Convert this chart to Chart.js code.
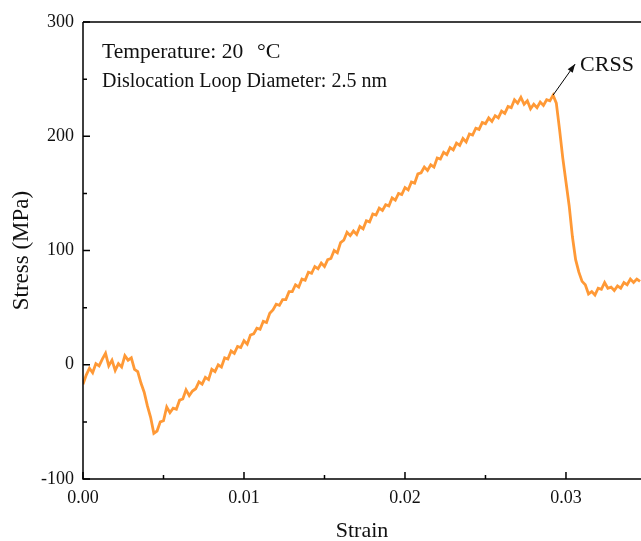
<!DOCTYPE html>
<html lang="en">
<head>
  <meta charset="UTF-8" />
  <title>Stress-Strain</title>
  <script src="https://cdn.jsdelivr.net/npm/chart.js@4.4.0"></script>
  <style>
    html, body { margin: 0; padding: 0; background: #fff; overflow: hidden; }
    #wrap { width: 641px; height: 541px; }
  </style>
</head>
<body>
  <div id="wrap"><canvas id="ssChart" width="641" height="541"></canvas></div>

  <script>
    // strain values
    const strain = [
      0.0000, 0.0002, 0.0004, 0.0006, 0.0008, 0.0010, 0.0012, 0.0014, 0.0016, 0.0018,
      0.0020, 0.0022, 0.0024, 0.0026, 0.0028, 0.0030, 0.0032, 0.0034, 0.0036, 0.0038,
      0.0040, 0.0042, 0.0044, 0.0046, 0.0048, 0.0050, 0.0052, 0.0054, 0.0056, 0.0058,
      0.0060, 0.0062, 0.0064, 0.0066, 0.0068, 0.0070, 0.0072, 0.0074, 0.0076, 0.0078,
      0.0080, 0.0082, 0.0084, 0.0086, 0.0088, 0.0090, 0.0092, 0.0094, 0.0096, 0.0098,
      0.0100, 0.0102, 0.0104, 0.0106, 0.0108, 0.0110, 0.0112, 0.0114, 0.0116, 0.0118,
      0.0120, 0.0122, 0.0124, 0.0126, 0.0128, 0.0130, 0.0132, 0.0134, 0.0136, 0.0138,
      0.0140, 0.0142, 0.0144, 0.0146, 0.0148, 0.0150, 0.0152, 0.0154, 0.0156, 0.0158,
      0.0160, 0.0162, 0.0164, 0.0166, 0.0168, 0.0170, 0.0172, 0.0174, 0.0176, 0.0178,
      0.0180, 0.0182, 0.0184, 0.0186, 0.0188, 0.0190, 0.0192, 0.0194, 0.0196, 0.0198,
      0.0200, 0.0202, 0.0204, 0.0206, 0.0208, 0.0210, 0.0212, 0.0214, 0.0216, 0.0218,
      0.0220, 0.0222, 0.0224, 0.0226, 0.0228, 0.0230, 0.0232, 0.0234, 0.0236, 0.0238,
      0.0240, 0.0242, 0.0244, 0.0246, 0.0248, 0.0250, 0.0252, 0.0254, 0.0256, 0.0258,
      0.0260, 0.0262, 0.0264, 0.0266, 0.0268, 0.0270, 0.0272, 0.0274, 0.0276, 0.0278,
      0.0280, 0.0282, 0.0284, 0.0286, 0.0288, 0.0290, 0.0292, 0.0294, 0.0296, 0.0298,
      0.0300, 0.0302, 0.0304, 0.0306, 0.0308, 0.0310, 0.0312, 0.0314, 0.0316, 0.0318,
      0.0320, 0.0322, 0.0324, 0.0326, 0.0328, 0.0330, 0.0332, 0.0334, 0.0336, 0.0338,
      0.0340, 0.0342, 0.0344, 0.0346
    ];

    // stress in MPa
    const stress = [
      -17, -9, -3, -7, 1, -1, 5, 10, -1, 4,
      -5, 1, -2, 8, 4, 6, -4, -6, -16, -24,
      -36, -46, -60, -58, -50, -49, -37, -42, -38, -39,
      -31, -30, -22, -27, -23, -21, -15, -17, -11, -13,
      -4, -6, 0, -2, 6, 5, 12, 10, 16, 15,
      21, 18, 26, 27, 32, 31, 38, 37, 45, 48,
      53, 52, 57, 57, 64, 64, 70, 68, 75, 74,
      81, 80, 86, 84, 89, 86, 92, 93, 100, 98,
      107, 109, 116, 113, 117, 114, 121, 119, 126, 125,
      132, 131, 137, 135, 140, 139, 146, 144, 150, 149,
      155, 153, 160, 159, 167, 168, 173, 170, 175, 173,
      181, 180, 186, 184, 190, 188, 194, 192, 198, 195,
      202, 201, 207, 206, 212, 211, 216, 213, 218, 216,
      222, 220, 226, 225, 232, 229, 234, 228, 231, 224,
      228, 225, 230, 227, 232, 231, 236, 229, 206, 181,
      160, 139, 112, 92, 81, 73, 70, 62, 64, 61,
      67, 66, 72, 67, 68, 65, 69, 67, 72, 70,
      75, 72, 75, 73
    ];

    const xTicks = [0, 0.01, 0.02, 0.03];
    const xMinor = [0.005, 0.015, 0.025];
    const yTicks = [-100, 0, 100, 200, 300];
    const yMinor = [-50, 50, 150, 250];

    const tempText = 'Temperature: 20';
    const tempUnit = '\u00b0C';
    const loopText = 'Dislocation Loop Diameter: 2.5 nm';
    const peakLabel = 'CRSS';
    const peakStrain = 0.0292;
    const peakStress = 236;

    const serif = "'Liberation Serif', 'Times New Roman', serif";

    // frame, inward ticks and text annotations
    const framePlugin = {
      id: 'frame',
      afterDraw(chart) {
        const { ctx, chartArea: a, scales: { x, y } } = chart;
        ctx.save();
        ctx.strokeStyle = '#000';
        ctx.lineWidth = 1.5;
        ctx.beginPath();
        ctx.moveTo(a.left, a.top);
        ctx.lineTo(a.right + 2, a.top);
        ctx.moveTo(a.left, a.top);
        ctx.lineTo(a.left, a.bottom);
        ctx.lineTo(a.right + 2, a.bottom);
        ctx.stroke();

        ctx.beginPath();
        xTicks.forEach(v => { const px = x.getPixelForValue(v); ctx.moveTo(px, a.bottom); ctx.lineTo(px, a.bottom - 7); });
        xMinor.forEach(v => { const px = x.getPixelForValue(v); ctx.moveTo(px, a.bottom); ctx.lineTo(px, a.bottom - 4); });
        yTicks.forEach(v => { const py = y.getPixelForValue(v); ctx.moveTo(a.left, py); ctx.lineTo(a.left + 7, py); });
        yMinor.forEach(v => { const py = y.getPixelForValue(v); ctx.moveTo(a.left, py); ctx.lineTo(a.left + 4, py); });
        ctx.stroke();

        ctx.fillStyle = '#111';
        ctx.font = '21.5px ' + serif;
        ctx.textAlign = 'left';
        ctx.textBaseline = 'alphabetic';
        ctx.fillText(tempText, a.left + 19, a.top + 36);
        ctx.font = '22px ' + serif;
        ctx.fillText(tempUnit, a.left + 174, a.top + 36);
        ctx.font = '20px ' + serif;
        ctx.fillText(loopText, a.left + 19, a.top + 65);

        // arrow to CRSS
        const sx = x.getPixelForValue(peakStrain), sy = y.getPixelForValue(peakStress);
        const ex = sx + 22, ey = sy - 31;
        ctx.lineWidth = 1;
        ctx.beginPath();
        ctx.moveTo(sx, sy);
        ctx.lineTo(ex, ey);
        ctx.stroke();
        const ang = Math.atan2(ey - sy, ex - sx);
        ctx.beginPath();
        ctx.moveTo(ex, ey);
        ctx.lineTo(ex - 9 * Math.cos(ang - 0.35), ey - 9 * Math.sin(ang - 0.35));
        ctx.lineTo(ex - 9 * Math.cos(ang + 0.35), ey - 9 * Math.sin(ang + 0.35));
        ctx.closePath();
        ctx.fill();
        ctx.font = '22px ' + serif;
        ctx.fillText(peakLabel, ex + 5, ey + 7);
        ctx.restore();
      }
    };

    const ctx = document.getElementById('ssChart').getContext('2d');
    new Chart(ctx, {
      type: 'line',
      data: {
        datasets: [{
          label: 'Stress',
          data: strain.map((s, i) => ({ x: s, y: stress[i] })),
          borderColor: '#ff9936',
          borderWidth: 2.8,
          pointRadius: 0,
          tension: 0,
          fill: false
        }]
      },
      options: {
        responsive: false,
        animation: false,
        layout: { padding: { top: 22, right: 0, left: 0, bottom: 0 } },
        plugins: { legend: { display: false }, tooltip: { enabled: false } },
        scales: {
          x: {
            type: 'linear',
            min: 0,
            max: 0.03466,
            afterBuildTicks: s => { s.ticks = xTicks.map(v => ({ value: v })); },
            afterFit: s => { s.height = 62; },
            grid: { display: false, drawTicks: false },
            border: { display: false },
            ticks: {
              color: '#111',
              padding: 8,
              font: { family: serif, size: 18 },
              callback: v => v.toFixed(2)
            },
            title: {
              display: true,
              text: 'Strain',
              color: '#111',
              font: { family: serif, size: 22 },
              padding: { top: 0, bottom: -3 }
            }
          },
          y: {
            min: -100,
            max: 300,
            afterBuildTicks: s => { s.ticks = yTicks.map(v => ({ value: v })); },
            afterFit: s => { s.width = 83; },
            grid: { display: false, drawTicks: false },
            border: { display: false },
            ticks: {
              color: '#111',
              padding: 9,
              font: { family: serif, size: 18 }
            },
            title: {
              display: true,
              text: 'Stress (MPa)',
              color: '#111',
              font: { family: serif, size: 23 },
              padding: { top: 8, bottom: 0 }
            }
          }
        }
      },
      plugins: [framePlugin]
    });
  </script>
</body>
</html>
